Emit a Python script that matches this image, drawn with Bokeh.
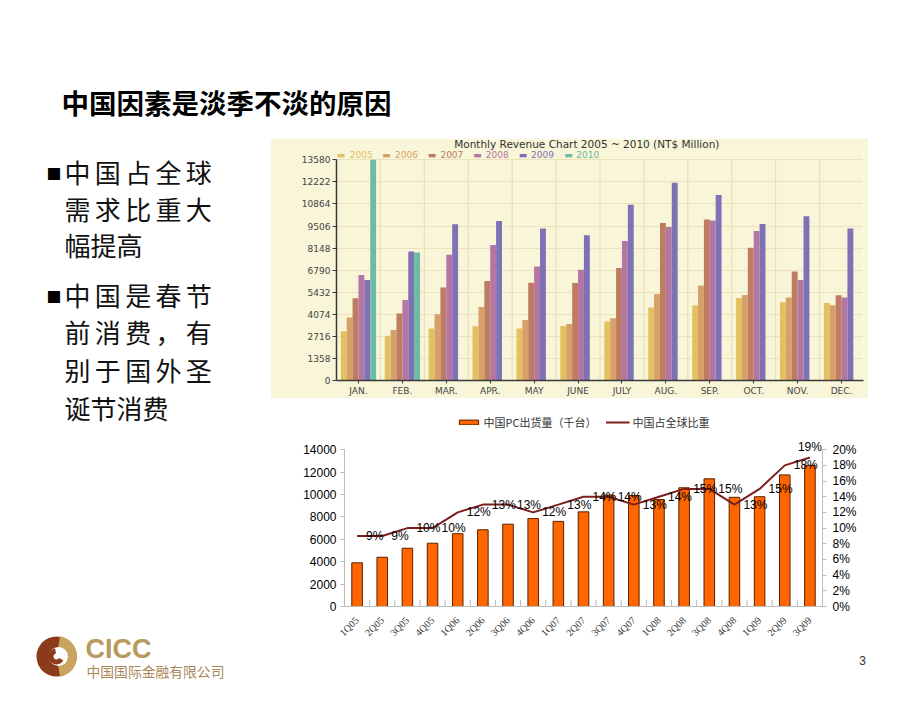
import math
from bokeh.plotting import figure
from bokeh.models import (Range1d, FactorRange, FixedTicker, LinearAxis, Label, LabelSet,
                          ColumnDataSource, Legend, LegendItem, PrintfTickFormatter)
from bokeh.layouts import column, row
from bokeh.transform import dodge
from bokeh.embed import file_html
from bokeh.resources import INLINE
from bokeh.core.properties import value

CJK = "Noto Sans CJK SC"
SP = "\u2006"

# ---------------- data ----------------
slide_title = "中国因素是淡季不淡的原因"
bullet_lines = [SP.join("中国占全球"), SP.join("需求比重大"), "幅提高",
                SP.join("中国是春节"), SP.join("前消费，有"), SP.join("别于国外圣"), "诞节消费"]
bullet_marks = ["■", "■"]

months = ["JAN.", "FEB.", "MAR.", "APR.", "MAY", "JUNE", "JULY", "AUG.", "SEP.", "OCT.", "NOV.", "DEC."]
years = ["2005", "2006", "2007", "2008", "2009", "2010"]
rev_2005 = [3030, 2750, 3200, 3340, 3200, 3360, 3630, 4490, 4610, 5080, 4810, 4770]
rev_2006 = [3870, 3110, 4080, 4530, 3730, 3480, 3830, 5330, 5840, 5260, 5100, 4630]
rev_2007 = [5060, 4120, 5720, 6120, 6020, 6000, 6920, 9690, 9910, 8170, 6700, 5240]
rev_2008 = [6490, 4960, 7740, 8340, 7010, 6820, 8580, 9440, 9850, 9200, 6190, 5100]
rev_2009 = [6190, 7930, 9610, 9810, 9360, 8930, 10820, 12170, 11410, 9630, 10100, 9360]
rev_2010 = [13580, 7870]
rev_ticks = [0, 1358, 2716, 4074, 5432, 6790, 8148, 9506, 10864, 12222, 13580]
rev_title = "Monthly Revenue Chart 2005 ~ 2010 (NT$ Million)"

quarters = ["1Q05", "2Q05", "3Q05", "4Q05", "1Q06", "2Q06", "3Q06", "4Q06", "1Q07", "2Q07",
            "3Q07", "4Q07", "1Q08", "2Q08", "3Q08", "4Q08", "1Q09", "2Q09", "3Q09"]
china_pc = [3900, 4400, 5200, 5650, 6500, 6850, 7350, 7850, 7600, 8450,
            9950, 9900, 9550, 10600, 11400, 9750, 9800, 11750, 12600]
china_share = [9, 9, 10, 10, 12, 13, 13, 12, 13, 14, 14, 13, 14, 15, 15, 13, 15, 18, 19]
pc_ticks = [0, 2000, 4000, 6000, 8000, 10000, 12000, 14000]
share_ticks = [0, 2, 4, 6, 8, 10, 12, 14, 16, 18, 20]
pc_name = "中国PC出货量（千台）"
share_name = "中国占全球比重"
page_no = "3"

CREAM = "#F8F5D8"
year_colors = ["#E3C160", "#D8A068", "#BE7C63", "#B476A4", "#7F72B4", "#6DBAA6"]


def blank(w, h):
    f = figure(width=w, height=h, x_range=Range1d(0, w), y_range=Range1d(h, 0),
               output_backend="svg", toolbar_location=None, x_axis_type=None, y_axis_type=None,
               min_border=0, frame_align=False)
    f.outline_line_color = None
    f.background_fill_color = "white"
    f.border_fill_color = "white"
    return f


# ---------------- header ----------------
hdr = blank(912, 138)
hdr.text(x=[61], y=[101], text=[slide_title], text_font=value(CJK), text_font_size="27.5px",
         text_font_style="bold", text_baseline="middle", text_color="black")

# ---------------- left text + logo ----------------
left = blank(270, 557)
line_y = [33, 69.5, 106.2, 156.2, 192.8, 231.2, 268.8]
left.text(x=[64] * len(bullet_lines), y=line_y, text=bullet_lines, text_font=value(CJK),
          text_font_size="26px", text_baseline="middle", text_color="#111")
left.text(x=[46, 46], y=[35, 158], text=bullet_marks, text_font=value(CJK),
          text_font_size="15px", text_baseline="middle", text_color="black")
# logo
LX, LY = 56, 518
left.circle(x=[LX], y=[LY], radius=20, fill_color="#8C3A1C", line_color=None)
left.annular_wedge(x=[LX], y=[LY], inner_radius=9, outer_radius=20.5,
                   start_angle=math.radians(-80), end_angle=math.radians(80),
                   fill_color="#C9A460", line_color=None)
left.circle(x=[LX + 2], y=[LY], radius=9.5, fill_color="white", line_color=None)
left.annular_wedge(x=[LX], y=[LY], inner_radius=3, outer_radius=8,
                   start_angle=math.radians(100), end_angle=math.radians(330),
                   fill_color="#8C3A1C", line_color=None)
left.text(x=[85], y=[510], text=["CICC"], text_font=value("Liberation Sans"),
          text_font_size="27px", text_font_style="bold", text_baseline="middle",
          text_color="#B89A5E")
left.text(x=[86], y=[532], text=["中国国际金融有限公司"], text_font=value(CJK),
          text_font_size="13.8px", text_baseline="middle", text_color="#A8875A")

# ---------------- top chart ----------------
top_end = rev_ticks[-1] * 241 / 220.7
top = figure(width=598, height=260, x_range=FactorRange(factors=months),
             y_range=Range1d(0, top_end),
             output_backend="svg", toolbar_location=None, frame_align=False,
             min_border_left=66, min_border_right=5, min_border_top=1, min_border_bottom=18)
top.background_fill_color = CREAM
top.border_fill_color = CREAM
top.outline_line_color = None
top.xgrid.visible = False
# vertical separators between month groups (category boundaries), stopping at the top tick
bounds_top = list(range(1, len(months)))
top.segment(x0=bounds_top, y0=[0] * len(bounds_top), x1=bounds_top,
            y1=[rev_ticks[-1]] * len(bounds_top), line_color="#E6DBB0", line_width=1,
            level="underlay")
bw = 0.134
series = [rev_2005, rev_2006, rev_2007, rev_2008, rev_2009, rev_2010]
for i, (yr, vals, col) in enumerate(zip(years, series, year_colors)):
    src = ColumnDataSource(dict(m=months[:len(vals)], v=vals))
    top.vbar(x=dodge("m", (i - 2.5) * bw, range=top.x_range), top="v", width=bw, source=src,
             fill_color=col, line_color=None)
    top.add_layout(Label(x=0.3 + i * 45.5, y=226, x_units="screen", y_units="screen", text="▬",
                         text_font="DejaVu Sans", text_font_size="9px", text_color=col,
                         text_align="left", text_baseline="middle"))
    top.add_layout(Label(x=13.3 + i * 45.3, y=226, x_units="screen", y_units="screen", text=yr,
                         text_font="DejaVu Sans", text_font_size="9px", text_color=col,
                         text_align="left", text_baseline="middle"))

top.yaxis.ticker = FixedTicker(ticks=rev_ticks)
top.yaxis.bounds = (0, rev_ticks[-1])
for ax in (top.xaxis, top.yaxis):
    ax.major_label_text_font = "DejaVu Sans"
    ax.major_label_text_font_size = "9px"
    ax.major_label_text_color = "#444"
    ax.axis_line_color = "#3A3A3A"
    ax.axis_line_width = 1.5
    ax.major_tick_line_color = "#3A3A3A"
    ax.major_tick_in = 0
    ax.minor_tick_in = 0
    ax.minor_tick_out = 0
    ax.major_label_standoff = 2
top.yaxis.major_tick_out = 4
top.xaxis.major_tick_out = 3
top.ygrid.grid_line_color = "#EAE2BC"
top.add_layout(Label(x=250.3, y=236.5, x_units="screen", y_units="screen", text=rev_title,
                     text_font="DejaVu Sans", text_font_size="10.5px", text_color="#333",
                     text_align="center", text_baseline="middle"))

# ---------------- bottom chart ----------------
bot = figure(width=598, height=250, x_range=FactorRange(factors=quarters),
             y_range=Range1d(0, pc_ticks[-1] * 1.25),
             output_backend="svg", toolbar_location=None, frame_align=False,
             min_border_left=74, min_border_right=46, min_border_top=12, min_border_bottom=42)
bot.outline_line_color = None
bot.grid.grid_line_color = None
bot.extra_y_ranges = {"pct": Range1d(0, share_ticks[-1] * 1.25)}
# small separators between quarters on the category axis
bounds_bot = list(range(1, len(quarters)))
bot.segment(x0=bounds_bot, y0=[0] * len(bounds_bot), x1=bounds_bot,
            y1=[600] * len(bounds_bot), line_color="#BBBBBB", line_width=1, level="underlay")
bsrc = ColumnDataSource(dict(q=quarters, pc=china_pc, share=china_share,
                             lab=[f"{s}%" for s in china_share]))
bars = bot.vbar(x="q", top="pc", width=0.42, source=bsrc, fill_color="#FF6600",
                line_color="#5C1F00", line_width=1)
ln = bot.line(x="q", y="share", y_range_name="pct", source=bsrc, line_color="#7B1E1E", line_width=2)
n_in = len(quarters) - 1
lsrc = ColumnDataSource(dict(q=quarters[:n_in], share=china_share[:n_in],
                             lab=[f"{s}%" for s in china_share[:n_in]]))
bot.add_layout(LabelSet(x="q", y="share", text="lab", y_range_name="pct", x_offset=9, source=lsrc,
                        text_font=value("Liberation Sans"), text_font_size="12px",
                        text_color="black", text_baseline="middle", text_align="left"))
# last label: placed just above its point so it stays inside the plotting area
bot.add_layout(Label(x=quarters.index(quarters[-1]) + 0.5, y=china_share[-1], y_range_name="pct",
                     y_offset=11, text=f"{china_share[-1]}%", text_font="Liberation Sans",
                     text_font_size="12px", text_color="black", text_baseline="middle",
                     text_align="center"))
rax = LinearAxis(y_range_name="pct", ticker=FixedTicker(ticks=share_ticks),
                 formatter=PrintfTickFormatter(format="%d%%"), bounds=(0, share_ticks[-1]))
bot.add_layout(rax, "right")
bot.yaxis[0].ticker = FixedTicker(ticks=pc_ticks)
bot.yaxis[0].bounds = (0, pc_ticks[-1])
for ax in bot.yaxis:
    ax.major_label_text_font = "Liberation Sans"
    ax.major_label_text_font_size = "12px"
    ax.major_label_text_color = "black"
    ax.axis_line_color = "#BBBBBB"
    ax.major_tick_line_color = "#BBBBBB"
    ax.major_tick_out = 4
    ax.major_tick_in = 0
    ax.minor_tick_in = 0
    ax.minor_tick_out = 0
    ax.major_label_standoff = 4
rax.major_label_standoff = 6
bot.xaxis.major_label_orientation = math.pi / 4
bot.xaxis.major_label_text_font = "Liberation Serif"
bot.xaxis.major_label_text_font_size = "10px"
bot.xaxis.major_label_text_color = "#333"
bot.xaxis.axis_line_color = "#BBBBBB"
bot.xaxis.major_tick_out = 0
bot.xaxis.major_tick_in = 0
bot.xaxis.major_label_standoff = 12
bleg = Legend(items=[LegendItem(label=pc_name, renderers=[bars]),
                     LegendItem(label=share_name, renderers=[ln])],
              orientation="horizontal", location="top_center", glyph_width=24, glyph_height=6,
              label_height=12, label_standoff=3, spacing=9, padding=0, margin=4,
              border_line_color=None, background_fill_alpha=0, label_text_font=CJK,
              label_text_font_size="11px", label_text_color="#333")
bot.add_layout(bleg)

# ---------------- page number strip ----------------
foot = blank(598, 47)
foot.text(x=[592], y=[12], text=[page_no], text_font=value("Liberation Sans"),
          text_font_size="12px", text_align="center", text_baseline="middle", text_color="#333")

layout = column(hdr, row(left, column(top, bot, foot)))
open("out.html", "w").write(file_html(layout, INLINE))
